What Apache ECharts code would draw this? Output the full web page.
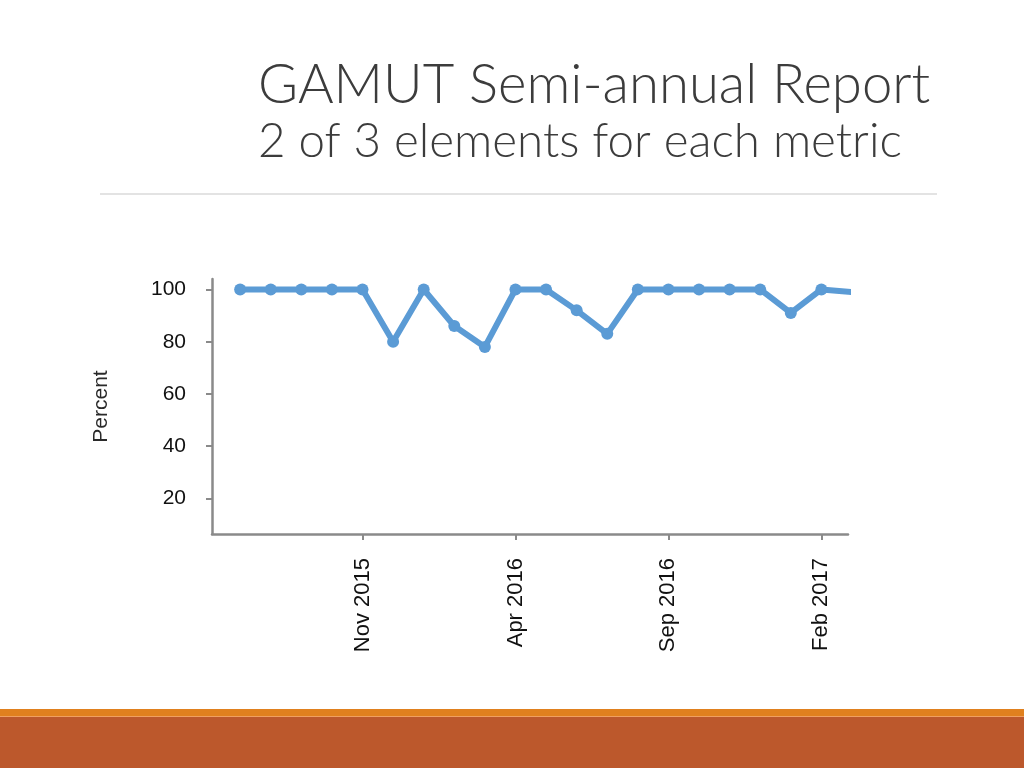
<!DOCTYPE html>
<html>
<head>
<meta charset="utf-8">
<script src="https://cdn.jsdelivr.net/npm/echarts@6/dist/echarts.min.js"></script>
<style>
html,body{margin:0;padding:0;background:#fff;}
#chart{width:1024px;height:768px;}
</style>
</head>
<body>
<div id="chart"></div>
<script>
var titleText = 'GAMUT Semi-annual Report';
var subtitleText = '2 of 3 elements for each metric';
var yAxisName = 'Percent';
var months = ['Jul 2015','Aug 2015','Sep 2015','Oct 2015','Nov 2015','Dec 2015',
  'Jan 2016','Feb 2016','Mar 2016','Apr 2016','May 2016','Jun 2016','Jul 2016',
  'Aug 2016','Sep 2016','Oct 2016','Nov 2016','Dec 2016','Jan 2017','Feb 2017','Mar 2017'];
var percentValues = [100,100,100,100,100,80,100,86,78,100,100,92,83,100,100,100,100,100,91,100,99];
var xTickIndexes = [4, 9, 14, 19];
var yTickValues = [20, 40, 60, 80, 100];

var seriesData = percentValues.map(function (v, i) { return [i, v]; });

var chart = echarts.init(document.getElementById('chart'));
chart.setOption({
  animation: false,
  backgroundColor: '#ffffff',
  graphic: [
    { type: 'text', left: 258, top: 58, style: { text: titleText, fontFamily: 'Lato', fontWeight: 300, fontSize: 54.5, fill: '#3c3c3c' } },
    { type: 'text', left: 258, top: 118, style: { text: subtitleText, fontFamily: 'Lato', fontWeight: 300, fontSize: 47.5, fill: '#3c3c3c' } },
    { type: 'rect', shape: { x: 100, y: 193.5, width: 837, height: 1 }, style: { fill: '#c8c8c8' } },
    { type: 'rect', shape: { x: 0, y: 709, width: 1024, height: 7 }, style: { fill: '#E0801E' } },
    { type: 'rect', shape: { x: 0, y: 716, width: 1024, height: 1 }, style: { fill: '#F0A060' } },
    { type: 'rect', shape: { x: 0, y: 717, width: 1024, height: 51 }, style: { fill: '#BC582C' } }
  ],
  grid: { left: 212, top: 279, right: 176, bottom: 234, outerBoundsMode: 'none' },
  xAxis: {
    type: 'value',
    min: -0.92,
    max: 19.87,
    splitLine: { show: false },
    axisLine: { show: true, onZero: false, lineStyle: { color: '#8a8a8a', width: 2.5 } },
    axisTick: { show: true, length: 6, customValues: xTickIndexes, lineStyle: { color: '#8a8a8a', width: 2 } },
    axisLabel: {
      customValues: xTickIndexes,
      rotate: 90,
      margin: 24,
      fontFamily: 'Liberation Sans',
      fontSize: 22,
      color: '#111111',
      formatter: function (v) { return months[Math.round(v)]; }
    }
  },
  yAxis: {
    type: 'value',
    min: 6.4,
    max: 104,
    name: yAxisName,
    nameLocation: 'middle',
    nameRotate: 90,
    nameGap: 100,
    nameTextStyle: { fontFamily: 'Liberation Sans', fontSize: 21, color: '#2a2a2a' },
    splitLine: { show: false },
    axisLine: { show: true, onZero: false, lineStyle: { color: '#8a8a8a', width: 2.5 } },
    axisTick: { show: true, length: 6, customValues: yTickValues, lineStyle: { color: '#8a8a8a', width: 2 } },
    axisLabel: {
      customValues: yTickValues,
      margin: 26,
      fontFamily: 'Liberation Sans',
      fontSize: 21,
      color: '#111111'
    }
  },
  series: [{
    type: 'line',
    data: seriesData,
    clip: true,
    symbol: 'circle',
    symbolSize: 12,
    showAllSymbol: true,
    lineStyle: { color: '#5B9BD5', width: 6 },
    itemStyle: { color: '#5B9BD5' }
  }]
});
</script>
</body>
</html>
